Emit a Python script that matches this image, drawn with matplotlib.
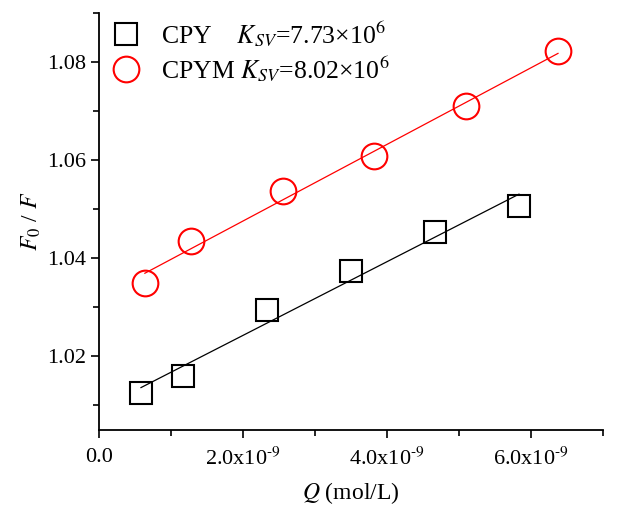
import matplotlib
matplotlib.use("Agg")
import matplotlib.pyplot as plt
import numpy as np
from matplotlib.ticker import MultipleLocator, FuncFormatter, FixedLocator

plt.rcParams["font.family"] = ["Liberation Serif", "DejaVu Serif"]
plt.rcParams["mathtext.fontset"] = "stix"

# quencher concentration (units of 1e-9 mol/L) and F0/F
cpy_q = [0.583, 1.167, 2.333, 3.50, 4.667, 5.833]
cpy_f = [1.0126, 1.0160, 1.0295, 1.0374, 1.0453, 1.0506]
cpym_q = [0.637, 1.275, 2.55, 3.825, 5.10, 6.375]
cpym_f = [1.0350, 1.0435, 1.0537, 1.0608, 1.0710, 1.0822]

x_ticks = [0, 2, 4, 6]
cpy_label = r"CPY    $K_{SV}$=7.73×10$^6$"
cpym_label = r"CPYM $K_{SV}$=8.02×10$^6$"

fig = plt.figure(figsize=(6.17, 5.07), dpi=100)
ax = fig.add_axes([99 / 617, 1 - 430 / 507, 504 / 617, 417 / 507])

x1 = np.array(cpy_q) * 1e-9
x2 = np.array(cpym_q) * 1e-9

k1, b1 = np.polyfit(x1, cpy_f, 1)
k2, b2 = np.polyfit(x2, cpym_f, 1)

ax.plot(x1, k1 * x1 + b1, color="black", lw=0.9, zorder=2)
ax.plot(x2, k2 * x2 + b2, color="red", lw=0.9, zorder=2)

ax.plot(x1, cpy_f, "s", ms=16.5, mfc="none", mec="black", mew=1.5,
        label=cpy_label, zorder=3)
ax.plot(x2, cpym_f, "o", ms=18.5, mfc="none", mec="red", mew=1.5,
        label=cpym_label, zorder=3)

ax.set_xlim(0, 7e-9)
ax.set_ylim(1.005, 1.09)

ax.xaxis.set_major_locator(FixedLocator([t * 1e-9 for t in x_ticks]))
ax.xaxis.set_minor_locator(FixedLocator([t * 1e-9 for t in range(1, 8, 2)]))
ax.yaxis.set_major_locator(MultipleLocator(0.02))
ax.yaxis.set_minor_locator(MultipleLocator(0.01))


def xfmt(v, pos):
    if abs(v) < 1e-15:
        return "0.0"
    return r"%.1fx10$^{\text{-}9}$" % (v * 1e9)


ax.xaxis.set_major_formatter(FuncFormatter(xfmt))
ax.yaxis.set_major_formatter(FuncFormatter(lambda v, p: "%.2f" % v))

ax.tick_params(which="major", direction="out", length=6, width=1.2, labelsize=16)
ax.tick_params(axis="x", which="major", pad=7)
ax.tick_params(which="minor", direction="out", length=4, width=1.2)

for s in ["top", "right"]:
    ax.spines[s].set_visible(False)
for s in ["left", "bottom"]:
    ax.spines[s].set_linewidth(1.3)

ax.set_xlabel(r"$Q$ (mol/L)", fontsize=17, labelpad=7)
ax.set_ylabel(r"$F_0$ / $F$", fontsize=17, labelpad=3)

ax.legend(loc="upper left", frameon=False, fontsize=18.5, handletextpad=0.35,
          borderaxespad=0.0, labelspacing=0.2, bbox_to_anchor=(-0.017, 1.01))

fig.savefig("out.png", dpi=100)
